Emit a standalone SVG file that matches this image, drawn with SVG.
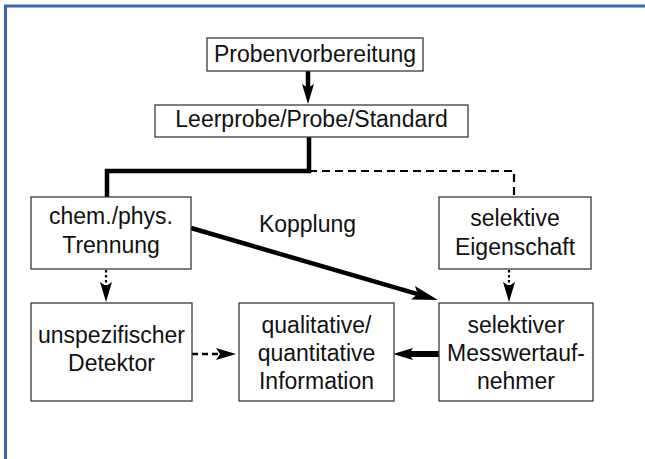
<svg xmlns="http://www.w3.org/2000/svg" width="645" height="459" viewBox="0 0 645 459">
  <style>
    .box{fill:#fff;stroke:#3a3a3a;stroke-width:1.3}
    .lbl{font-family:"Liberation Sans",Arial,Helvetica,sans-serif;font-size:23px;fill:#111;text-anchor:middle}
    .thick{fill:none;stroke:#000;stroke-width:4.5}
    .dash{fill:none;stroke:#000;stroke-width:2.2;stroke-dasharray:8 5}
    .dot{fill:none;stroke:#000;stroke-width:2.2;stroke-dasharray:2.5 2.5}
    .frame{fill:none;stroke:#3b66b3;stroke-width:3}
  </style>
  <defs>
    <marker id="head" viewBox="0 0 20 12" markerWidth="20" markerHeight="12" markerUnits="userSpaceOnUse" refX="4" refY="6" orient="auto">
      <path d="M0,0 L20,6 L0,12 L4,6 z" fill="#000"/>
    </marker>
    <marker id="headBig" viewBox="0 0 26 14" markerWidth="26" markerHeight="14" markerUnits="userSpaceOnUse" refX="5" refY="7" orient="auto">
      <path d="M0,0 L26,7 L0,14 L5,7 z" fill="#000"/>
    </marker>
  </defs>

  <!-- page frame -->
  <path class="frame" d="M5.5,459 V6 H645"/>

  <!-- connectors -->
  <g id="connectors">
    <path class="thick" d="M308,71 V88" marker-end="url(#head)"/>
    <path class="thick" d="M309,137 V171 H107 V197"/>
    <path class="dash" d="M309,171 H514 V197"/>
    <path class="dot" d="M106,270 V286" marker-end="url(#head)"/>
    <path class="dot" d="M509,270 V286" marker-end="url(#head)"/>
    <path class="thick" d="M191,228 L417.8,294.1" marker-end="url(#headBig)"/>
    <path fill="none" stroke="#000" stroke-width="2.6" stroke-dasharray="6 4" d="M192,354 H220" marker-end="url(#head)"/>
    <path fill="none" stroke="#000" stroke-width="6" d="M439,354 H409" marker-end="url(#head)"/>
  </g>

  <!-- nodes -->
  <g id="probenvorbereitung">
    <rect class="box" x="207" y="38" width="216" height="33"/>
    <text class="lbl" x="315" y="62">Probenvorbereitung</text>
  </g>
  <g id="leerprobe">
    <rect class="box" x="155" y="105" width="313" height="32"/>
    <text class="lbl" x="311.5" y="127">Leerprobe/Probe/Standard</text>
  </g>
  <g id="trennung">
    <rect class="box" x="31" y="197" width="160" height="72"/>
    <text class="lbl" x="111" y="224">chem./phys.</text>
    <text class="lbl" x="111" y="253">Trennung</text>
  </g>
  <g id="kopplung">
    <text class="lbl" x="307.5" y="232">Kopplung</text>
  </g>
  <g id="eigenschaft">
    <rect class="box" x="439" y="197" width="152" height="72"/>
    <text class="lbl" x="515" y="226">selektive</text>
    <text class="lbl" x="515" y="255">Eigenschaft</text>
  </g>
  <g id="detektor">
    <rect class="box" x="31" y="303" width="161" height="98"/>
    <text class="lbl" x="111.5" y="343">unspezifischer</text>
    <text class="lbl" x="111.5" y="371">Detektor</text>
  </g>
  <g id="information">
    <rect class="box" x="239" y="303" width="155" height="98"/>
    <text class="lbl" x="316.5" y="333">qualitative/</text>
    <text class="lbl" x="316.5" y="361">quantitative</text>
    <text class="lbl" x="316.5" y="389">Information</text>
  </g>
  <g id="messwertaufnehmer">
    <rect class="box" x="439" y="303" width="154" height="98"/>
    <text class="lbl" x="516" y="333">selektiver</text>
    <text class="lbl" x="516" y="361">Messwertauf-</text>
    <text class="lbl" x="516" y="389">nehmer</text>
  </g>
</svg>
